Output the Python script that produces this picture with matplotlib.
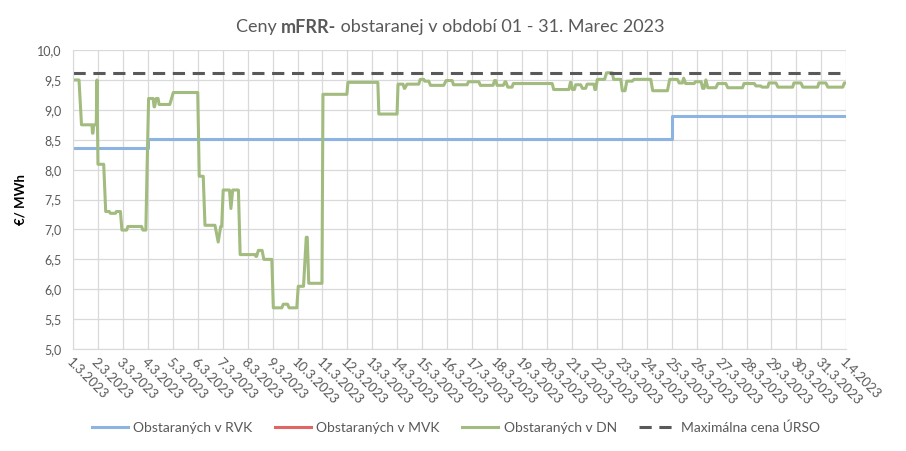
import numpy as np
import matplotlib
matplotlib.use("Agg")
import matplotlib.pyplot as plt

plt.rcParams['font.family'] = ['Lato', 'DejaVu Sans']

# x axis: days from 1.3.2023
tick_labels = ['%d.3.2023' % d for d in range(1, 32)] + ['1.4.2023']

# RVK (blue): step series (start day, end day, value)
rvk_start = [0, 3, 24]
rvk_end = [3, 24, 31]
rvk_val = [8.37, 8.51, 8.90]

# MVK (red): no values procured in this period
mvk_x = []
mvk_y = []

# DN (green): flat segments (start day, end day, value)
dn_start = [0.0, 0.34, 0.78, 0.83, 0.96, 1.0, 1.31, 1.5, 1.74, 1.96, 2.2, 2.8, 2.97, 3.03, 3.25,
            3.33, 3.45, 4.02, 5.06, 5.29, 5.82, 5.92, 6.02, 6.33, 6.40, 6.70, 7.33, 7.43, 7.65,
            8.03, 8.43, 8.66, 9.03, 9.35, 9.45, 10.02, 11.02, 12.26, 13.03, 13.28, 13.39, 13.92,
            14.1, 14.33, 14.96, 15.25, 15.85, 16.33, 16.9, 17.0, 17.32, 17.43, 17.65, 19.27,
            19.94, 20.02, 20.15, 20.42, 20.61, 20.92, 21.02, 21.39, 21.67, 22.02, 22.2, 22.49,
            23.24, 23.92, 24.3, 24.48, 24.56, 24.95, 25.24, 25.37, 25.45, 25.85, 26.25, 26.9,
            27.38, 27.62, 27.9, 28.26, 28.9, 29.26, 29.9, 30.26, 30.92]
dn_end = [0.24, 0.76, 0.80, 0.93, 0.96, 1.23, 1.45, 1.70, 1.90, 2.15, 2.75, 2.92, 2.97, 3.21, 3.27,
          3.41, 3.88, 5.0, 5.22, 5.69, 5.82, 5.96, 6.27, 6.33, 6.63, 7.30, 7.36, 7.58, 7.97,
          8.37, 8.60, 8.97, 9.24, 9.39, 9.98, 10.98, 12.22, 12.99, 13.23, 13.30, 13.86, 14.06,
          14.26, 14.86, 15.2, 15.8, 16.27, 16.84, 16.95, 17.25, 17.35, 17.6, 19.21, 19.88,
          19.96, 20.1, 20.35, 20.55, 20.88, 20.95, 21.31, 21.62, 21.96, 22.13, 22.42, 23.16,
          23.83, 24.23, 24.43, 24.48, 24.9, 25.18, 25.30, 25.37, 25.77, 26.17, 26.84, 27.31,
          27.57, 27.85, 28.18, 28.85, 29.18, 29.85, 30.18, 30.86, 31.0]
dn_val = [9.50, 8.75, 8.61, 8.75, 9.50, 8.09, 7.30, 7.27, 7.30, 6.99, 7.05, 6.99, 8.05, 9.19, 9.05,
          9.19, 9.09, 9.29, 7.89, 7.07, 6.79, 7.05, 7.66, 7.35, 7.66, 6.58, 6.55, 6.65, 6.50,
          5.69, 5.75, 5.69, 6.05, 6.87, 6.10, 9.26, 9.46, 8.93, 9.43, 9.36, 9.43, 9.51,
          9.48, 9.41, 9.49, 9.42, 9.47, 9.41, 9.49, 9.41, 9.47, 9.38, 9.44, 9.34,
          9.46, 9.34, 9.42, 9.36, 9.43, 9.34, 9.51, 9.62, 9.51, 9.32, 9.48, 9.51,
          9.32, 9.51, 9.45, 9.53, 9.44, 9.47, 9.36, 9.50, 9.37, 9.44, 9.37, 9.44,
          9.40, 9.38, 9.45, 9.38, 9.45, 9.38, 9.45, 9.38, 9.45]

max_price = 9.62

rvk_x = np.ravel(np.column_stack([rvk_start, rvk_end]))
rvk_y = np.repeat(rvk_val, 2)
dn_x = np.ravel(np.column_stack([dn_start, dn_end]))
dn_y = np.repeat(dn_val, 2)

fig = plt.figure(figsize=(9.06, 4.51), dpi=100)
ax = fig.add_axes([0.0806, 0.226, 0.8535, 0.663])

ax.plot(rvk_x, rvk_y, color='#8db3e2', lw=2.2, label='Obstaraných v RVK')
ax.plot(mvk_x, mvk_y, color='#e06666', lw=2.2, label='Obstaraných v MVK')
ax.plot(dn_x, dn_y, color='#a2bb7e', lw=2.2, label='Obstaraných v DN')
ax.plot([0, 31], [max_price, max_price], color='#595959', lw=2.2, ls=(0, (4, 2.5)),
        label='Maximálna cena ÚRSO')

ax.set_xlim(0, 31)
ax.set_ylim(5, 10)
ax.set_xticks(range(32))
ax.set_xticklabels(tick_labels, rotation=-45, ha='left', va='top', rotation_mode='anchor',
                   fontsize=9.5, color='#595959')
yt = np.arange(5, 10.01, 0.5)
ax.set_yticks(yt)
ax.set_yticklabels([('%.1f' % v).replace('.', ',') for v in yt], fontsize=9, color='#595959')
ax.tick_params(axis='y', length=0, pad=8)
ax.tick_params(axis='x', length=0, pad=5)
ax.grid(True, color='#d9d9d9', lw=0.9)
ax.set_axisbelow(True)
for s in ['top', 'right']:
    ax.spines[s].set_visible(False)
for s in ['left', 'bottom']:
    ax.spines[s].set_color('#d9d9d9')

ax.set_ylabel('€/ MWh', fontsize=9.5, fontweight='bold', color='black', labelpad=8)

# title with a bold part, built from three pieces
parts = [('Ceny ', 'normal'), ('mFRR-', 'bold'), (' obstaranej v období 01 - 31. Marec 2023', 'normal')]
r = fig.canvas.get_renderer()
objs = [fig.text(0, 0.94, p, fontsize=13, fontweight=w, color='#595959', va='center')
        for p, w in parts]
widths = [o.get_window_extent(r).width for o in objs]
x0 = 906 * 0.497 - sum(widths) / 2
for o, w in zip(objs, widths):
    o.set_x(x0 / 906)
    x0 += w

fig.legend(loc='lower center', bbox_to_anchor=(0.503, 0.01), ncol=4, frameon=False,
           fontsize=10, handlelength=2.6, handletextpad=0.4, columnspacing=1.6,
           labelcolor='#595959')

fig.savefig('out.png', dpi=100)
